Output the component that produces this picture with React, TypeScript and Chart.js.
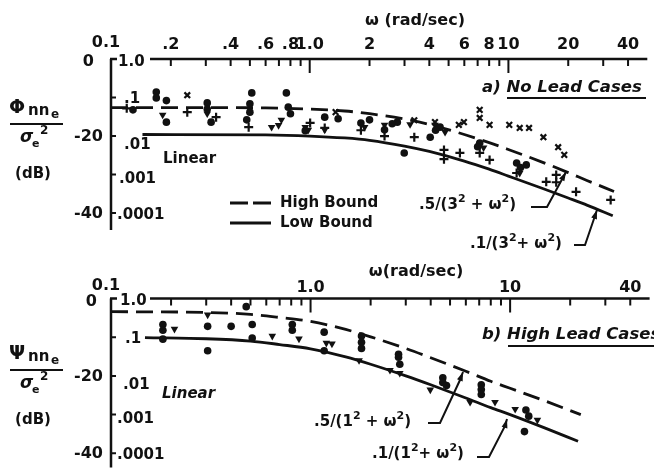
import React, { useEffect, useRef } from "react";
import { Chart, registerables } from "chart.js";
Chart.register(...registerables);

const FONT = "'DejaVu Sans', 'Liberation Sans', sans-serif";
const INK = "#111";

// ---------- axis ticks / labels ----------
const xMinorTicks = [0.2, 0.3, 0.4, 0.5, 0.6, 0.7, 0.8, 0.9, 2, 3, 4, 5, 6, 7, 8, 9, 20, 30, 40];
const xDecadeTicks = [1, 10];
const xLabelValsA = [0.1, 0.2, 0.4, 0.6, 0.8, 1, 2, 4, 6, 8, 10, 20, 40];
const xLabelsA = ["0.1", ".2", ".4", ".6", ".8", "1.0", "2", "4", "6", "8", "10", "20", "40"];
const xLabelValsB = [0.1, 1, 10, 40];
const xLabelsB = ["0.1", "1.0", "10", "40"];
const dbVals = [0, -20, -40];
const dbLabels = ["0", "-20", "-40"];
const linVals = [0, -10, -20, -30, -40];
const linLabels = ["1.0", ".1", ".01", ".001", ".0001"];

// ---------- panel a: No Lead Cases ----------
const highA_w = [0.1, 0.3, 0.6, 1, 1.5, 2, 3, 4, 6, 8, 10, 15, 20, 25, 34];
const highA_db = [-12.6, -12.6, -12.7, -13.0, -13.5, -14.2, -15.6, -17.0, -19.6, -21.7, -23.5, -26.9, -29.5, -31.6, -34.4];
const lowA_w = [0.144, 0.6, 1, 1.5, 2, 3, 4, 6, 8, 10, 15, 20, 25, 33.5];
const lowA_db = [-19.6, -19.7, -20.0, -20.5, -21.1, -22.6, -24.0, -26.5, -28.6, -30.4, -33.7, -36.1, -38.0, -40.7];

const circlesA = [
  [0.169, -8.6], [0.169, -10.1], [0.19, -10.8], [0.129, -13.2], [0.19, -16.4], [0.305, -11.4], [0.305, -13.0],
  [0.319, -16.4], [0.511, -8.8], [0.5, -11.6], [0.5, -13.8], [0.482, -15.8], [0.763, -8.8], [0.78, -12.5],
  [0.8, -14.2], [1.19, -15.1], [1.39, -15.5], [1.81, -16.6], [2.0, -15.8], [2.76, -16.4], [2.6, -16.8],
  [2.99, -24.4], [4.53, -17.7], [4.3, -18.5], [7.17, -21.8], [7.0, -22.8], [11.0, -27.0], [11.5, -28.2],
  [12.3, -27.5], [0.95, -18.6], [2.38, -18.4], [4.04, -20.3],
];
const trianglesA = [
  [0.182, -14.5], [0.305, -14.2], [0.643, -17.7], [0.697, -17.2], [0.72, -15.8], [0.95, -17.7], [0.984, -18.4],
  [1.19, -18.4], [1.89, -17.7], [2.38, -17.1], [3.2, -17.0], [4.27, -17.1], [4.8, -19.0], [11.4, -29.6], [7.5, -23.0],
];
const xMarksA = [
  [0.242, -9.4], [1.35, -13.8], [3.36, -15.9], [4.27, -16.4], [5.63, -17.1], [5.97, -16.4], [7.17, -15.3],
  [7.17, -13.2], [8.04, -17.1], [10.1, -17.1], [11.4, -17.9], [12.7, -17.9], [15.0, -20.3], [17.8, -22.9], [19.1, -24.9],
];
const plusA = [
  [0.12, -12.8], [0.242, -13.8], [0.338, -15.1], [0.493, -17.7], [1.005, -16.6], [1.19, -17.9], [1.81, -18.5],
  [2.38, -20.0], [3.36, -20.3], [4.74, -23.6], [4.74, -26.0], [5.7, -24.4], [7.17, -24.4], [8.04, -26.2],
  [11.0, -29.6], [15.5, -31.9], [17.4, -30.1], [17.4, -32.0], [21.9, -34.5], [32.7, -36.6],
];

// ---------- panel b: High Lead Cases ----------
const highB_w = [0.1, 0.3, 0.5, 0.7, 1, 1.5, 2, 3, 4, 6, 8, 10, 15, 22.6];
const highB_db = [-3.4, -3.6, -4.1, -4.9, -5.9, -8.0, -9.9, -12.9, -15.3, -18.8, -21.4, -23.2, -26.5, -30.0];
const lowB_w = [0.148, 0.3, 0.5, 0.7, 1, 1.5, 2, 3, 4, 6, 8, 10, 15, 21.9];
const lowB_db = [-10.1, -10.4, -11.0, -11.9, -13.0, -15.1, -17.0, -20.0, -22.3, -25.7, -28.2, -30.0, -33.5, -36.9];

const circlesB = [
  [0.182, -6.7], [0.182, -8.2], [0.182, -10.5], [0.305, -7.2], [0.305, -13.5], [0.4, -7.2], [0.476, -2.1],
  [0.51, -6.7], [0.51, -10.2], [0.81, -6.7], [0.81, -8.2], [1.17, -8.7], [1.17, -13.5], [1.8, -9.7],
  [1.8, -11.3], [1.8, -12.9], [2.76, -14.4], [2.76, -15.2], [2.8, -17.0], [4.6, -20.5], [4.6, -21.7],
  [4.8, -22.5], [7.17, -22.3], [7.17, -23.5], [7.17, -24.8], [12.0, -28.8], [12.4, -30.4], [11.8, -34.4],
];
const trianglesB = [
  [0.208, -7.9], [0.305, -4.2], [0.643, -9.7], [0.875, -10.4], [1.2, -11.5], [1.28, -11.7], [1.75, -16.0],
  [2.5, -18.5], [2.8, -19.3], [3.98, -23.6], [6.3, -26.8], [8.4, -26.8], [10.6, -28.6], [13.7, -31.4],
];

// ---------- helpers ----------
const mkLine = (w: number[], db: number[], dashed: boolean) => ({
  type: "line" as const,
  data: w.map((x, i) => ({ x, y: db[i] })),
  showLine: true,
  borderColor: INK,
  borderWidth: 2.8,
  borderDash: dashed ? [17, 8] : [],
  pointRadius: 0,
  cubicInterpolationMode: "monotone" as const,
  fill: false,
  order: 2,
});

const mkPts = (pts: number[][], style: string, r: number, rot = 0) => ({
  type: "scatter" as const,
  data: pts.map(([x, y]) => ({ x, y })),
  pointStyle: style,
  pointRadius: r,
  pointRotation: rot,
  pointBackgroundColor: INK,
  pointBorderColor: INK,
  pointBorderWidth: style === "cross" || style === "crossRot" ? 2.2 : 0,
  showLine: false,
  order: 1,
});

function txt(ctx: CanvasRenderingContext2D, s: string, x: number, y: number, align: CanvasTextAlign = "left", font = `bold 15px ${FONT}`) {
  ctx.font = font;
  ctx.textAlign = align;
  ctx.textBaseline = "middle";
  ctx.fillText(s, x, y);
}

// parts: [text, kind] kind: n | sup | sub
function rich(ctx: CanvasRenderingContext2D, parts: [string, string][], x: number, y: number, size = 15, italic = false) {
  let cx = x;
  ctx.textAlign = "left";
  ctx.textBaseline = "middle";
  for (const [s, k] of parts) {
    const sz = k === "n" ? size : Math.round(size * 0.72);
    const dy = k === "sup" ? -size * 0.38 : k === "sub" ? size * 0.3 : 0;
    ctx.font = `${italic ? "italic " : ""}bold ${sz}px ${FONT}`;
    ctx.fillText(s, cx, y + dy);
    cx += ctx.measureText(s).width;
  }
  return cx;
}

function leader(ctx: CanvasRenderingContext2D, pts: number[][]) {
  ctx.save();
  ctx.lineWidth = 2;
  ctx.strokeStyle = INK;
  ctx.beginPath();
  ctx.moveTo(pts[0][0], pts[0][1]);
  for (let i = 1; i < pts.length; i++) ctx.lineTo(pts[i][0], pts[i][1]);
  ctx.stroke();
  const [x1, y1] = pts[pts.length - 2];
  const [x2, y2] = pts[pts.length - 1];
  const a = Math.atan2(y2 - y1, x2 - x1);
  const L = 9, W = 3;
  ctx.beginPath();
  ctx.moveTo(x2, y2);
  ctx.lineTo(x2 - L * Math.cos(a) + W * Math.sin(a), y2 - L * Math.sin(a) - W * Math.cos(a));
  ctx.lineTo(x2 - L * Math.cos(a) - W * Math.sin(a), y2 - L * Math.sin(a) + W * Math.cos(a));
  ctx.closePath();
  ctx.fillStyle = INK;
  ctx.fill();
  ctx.restore();
}

function drawAxes(chart: any, labelVals: number[], labels: string[], labelY: number) {
  const ctx: CanvasRenderingContext2D = chart.ctx;
  const xs = chart.scales.x;
  const ys = chart.scales.y;
  const { left, top, bottom, right } = chart.chartArea;
  ctx.save();
  ctx.strokeStyle = INK;
  ctx.fillStyle = INK;
  ctx.lineWidth = 2.5;
  // y axis
  ctx.beginPath();
  ctx.moveTo(left, top);
  ctx.lineTo(left, bottom);
  ctx.moveTo(left - 1, top);
  ctx.lineTo(left + 6, top);
  ctx.stroke();
  // x axis (starts after the "1.0" label)
  ctx.beginPath();
  ctx.moveTo(150, top);
  ctx.lineTo(right, top);
  ctx.stroke();
  ctx.lineWidth = 2;
  ctx.beginPath();
  for (const v of xMinorTicks) {
    const x = xs.getPixelForValue(v);
    ctx.moveTo(x, top);
    ctx.lineTo(x, top + 7);
  }
  for (const v of xDecadeTicks) {
    const x = xs.getPixelForValue(v);
    ctx.moveTo(x, top);
    ctx.lineTo(x, top + 14);
  }
  for (const v of linVals.slice(1)) {
    const y = ys.getPixelForValue(v);
    ctx.moveTo(left, y);
    ctx.lineTo(left + 5, y);
  }
  ctx.stroke();
  labelVals.forEach((v, i) => {
    const x = xs.getPixelForValue(v) + (v === 0.1 ? -5 : 0);
    txt(ctx, labels[i], x, labelY + (v === 0.1 ? -2 : 0), "center", `bold 16px ${FONT}`);
  });
  ctx.restore();
}

function drawYLabels(chart: any, linX: number[], zeroX: number) {
  const ctx: CanvasRenderingContext2D = chart.ctx;
  const ys = chart.scales.y;
  ctx.save();
  ctx.fillStyle = INK;
  dbVals.forEach((v, i) => {
    const y = ys.getPixelForValue(v) + (v === 0 ? 3 : 1);
    txt(ctx, dbLabels[i], v === 0 ? zeroX : 103, y, "right", `bold 16px ${FONT}`);
  });
  linVals.forEach((v, i) => {
    const off = i === 0 ? 3 : i === 1 ? 2 : i === 2 ? 9 : i === 3 ? 5 : 2;
    const y = ys.getPixelForValue(v) + off;
    txt(ctx, linLabels[i], linX[i], y, "left", `bold 15px ${FONT}`);
  });
  ctx.restore();
}

function drawYTitle(ctx: CanvasRenderingContext2D, glyph: string, yTop: number) {
  ctx.save();
  ctx.fillStyle = INK;
  ctx.strokeStyle = INK;
  ctx.textBaseline = "middle";
  ctx.textAlign = "left";
  ctx.font = `bold 19px ${FONT}`;
  ctx.fillText(glyph, 9, yTop + 8);
  ctx.font = `bold 15px ${FONT}`;
  ctx.fillText("nn", 28, yTop + 11);
  ctx.font = `bold 12px ${FONT}`;
  ctx.fillText("e", 51, yTop + 15);
  ctx.lineWidth = 2;
  ctx.beginPath();
  ctx.moveTo(10, yTop + 24);
  ctx.lineTo(63, yTop + 24);
  ctx.stroke();
  ctx.font = `italic bold 17px ${FONT}`;
  ctx.fillText("σ", 20, yTop + 38);
  ctx.font = `bold 11px ${FONT}`;
  ctx.fillText("e", 32, yTop + 44);
  ctx.font = `bold 12px ${FONT}`;
  ctx.fillText("2", 40, yTop + 31);
  ctx.font = `bold 15px ${FONT}`;
  ctx.textAlign = "center";
  ctx.fillText("(dB)", 33, yTop + 74);
  ctx.restore();
}

const decoA = {
  id: "decoA",
  afterDatasetsDraw(chart: any) {
    const ctx: CanvasRenderingContext2D = chart.ctx;
    drawAxes(chart, xLabelValsA, xLabelsA, 45);
    drawYLabels(chart, [118, 124, 124, 119, 117], 94);
    ctx.save();
    ctx.fillStyle = INK;
    ctx.strokeStyle = INK;
    txt(ctx, "ω (rad/sec)", 415, 21, "center", `bold 16px ${FONT}`);
    drawYTitle(ctx, "Φ", 100);
    txt(ctx, "Linear", 163, 159, "left", `bold 15px ${FONT}`);
    txt(ctx, "a) No Lead Cases", 482, 88, "left", `italic bold 16.5px ${FONT}`);
    ctx.lineWidth = 1.8;
    ctx.beginPath();
    ctx.moveTo(507, 98);
    ctx.lineTo(646, 98);
    ctx.stroke();
    // legend
    ctx.lineWidth = 2.8;
    ctx.beginPath();
    ctx.moveTo(230, 203);
    ctx.lineTo(248, 203);
    ctx.moveTo(253, 203);
    ctx.lineTo(271, 203);
    ctx.moveTo(230, 223);
    ctx.lineTo(271, 223);
    ctx.stroke();
    txt(ctx, "High Bound", 280, 203, "left", `bold 15px ${FONT}`);
    txt(ctx, "Low Bound", 280, 223, "left", `bold 15px ${FONT}`);
    // annotations
    rich(ctx, [[".5/(3", "n"], ["2", "sup"], [" + ω", "n"], ["2", "sup"], [")", "n"]], 419, 205, 15);
    leader(ctx, [[531, 207], [547, 207], [566, 172]]);
    rich(ctx, [[".1/(3", "n"], ["2", "sup"], ["+ ω", "n"], ["2", "sup"], [")", "n"]], 470, 244, 15);
    leader(ctx, [[574, 245], [585, 245], [597, 210]]);
    ctx.restore();
  },
};

const decoB = {
  id: "decoB",
  afterDatasetsDraw(chart: any) {
    const ctx: CanvasRenderingContext2D = chart.ctx;
    drawAxes(chart, xLabelValsB, xLabelsB, 288);
    drawYLabels(chart, [120, 125, 123, 117, 117], 97);
    ctx.save();
    ctx.fillStyle = INK;
    ctx.strokeStyle = INK;
    txt(ctx, "ω(rad/sec)", 416, 272, "center", `bold 16px ${FONT}`);
    drawYTitle(ctx, "Ψ", 346);
    txt(ctx, "Linear", 162, 394, "left", `italic bold 15px ${FONT}`);
    txt(ctx, "b) High Lead Cases", 482, 335, "left", `italic bold 16.5px ${FONT}`);
    ctx.lineWidth = 1.8;
    ctx.beginPath();
    ctx.moveTo(508, 346);
    ctx.lineTo(654, 346);
    ctx.stroke();
    rich(ctx, [[".5/(1", "n"], ["2", "sup"], [" + ω", "n"], ["2", "sup"], [")", "n"]], 314, 422, 15);
    leader(ctx, [[428, 423], [440, 423], [460, 380], [463, 372]]);
    rich(ctx, [[".1/(1", "n"], ["2", "sup"], ["+ ω", "n"], ["2", "sup"], [")", "n"]], 372, 454, 15);
    leader(ctx, [[477, 457], [489, 457], [505, 426], [507, 419]]);
    ctx.restore();
  },
};

function Panel(props: { which: "a" | "b" }) {
  const ref = useRef<HTMLCanvasElement | null>(null);
  useEffect(() => {
    if (!ref.current) return;
    const a = props.which === "a";
    const datasets: any[] = a
      ? [
          mkPts(circlesA, "circle", 3.8),
          mkPts(trianglesA, "triangle", 4.4, 180),
          mkPts(xMarksA, "crossRot", 4),
          mkPts(plusA, "cross", 4.5),
          mkLine(highA_w, highA_db, true),
          mkLine(lowA_w, lowA_db, false),
        ]
      : [
          mkPts(circlesB, "circle", 3.8),
          mkPts(trianglesB, "triangle", 4.4, 180),
          mkLine(highB_w, highB_db, true),
          mkLine(lowB_w, lowB_db, false),
        ];
    const chart = new Chart(ref.current, {
      type: "scatter",
      data: { datasets },
      options: {
        animation: false,
        responsive: false,
        layout: a
          ? { padding: { left: 111, top: 59, right: 2, bottom: 242 } }
          : { padding: { left: 111, top: 298.5, right: 2, bottom: 2 } },
        scales: {
          x: { type: "logarithmic", min: 0.1, max: 50, display: false },
          y: { type: "linear", min: a ? -44.4 : -43.7, max: 0, display: false },
        },
        plugins: { legend: { display: false }, tooltip: { enabled: false } },
      },
      plugins: [a ? decoA : decoB],
    } as any);
    return () => chart.destroy();
  }, [props.which]);
  return <canvas ref={ref} width={654} height={472} style={{ position: "absolute", left: 0, top: 0 }} />;
}

export default function App() {
  return (
    <div style={{ position: "absolute", left: 0, top: 0, width: 654, height: 472, background: "#fff", overflow: "hidden" }}>
      <Panel which="a" />
      <Panel which="b" />
    </div>
  );
}
